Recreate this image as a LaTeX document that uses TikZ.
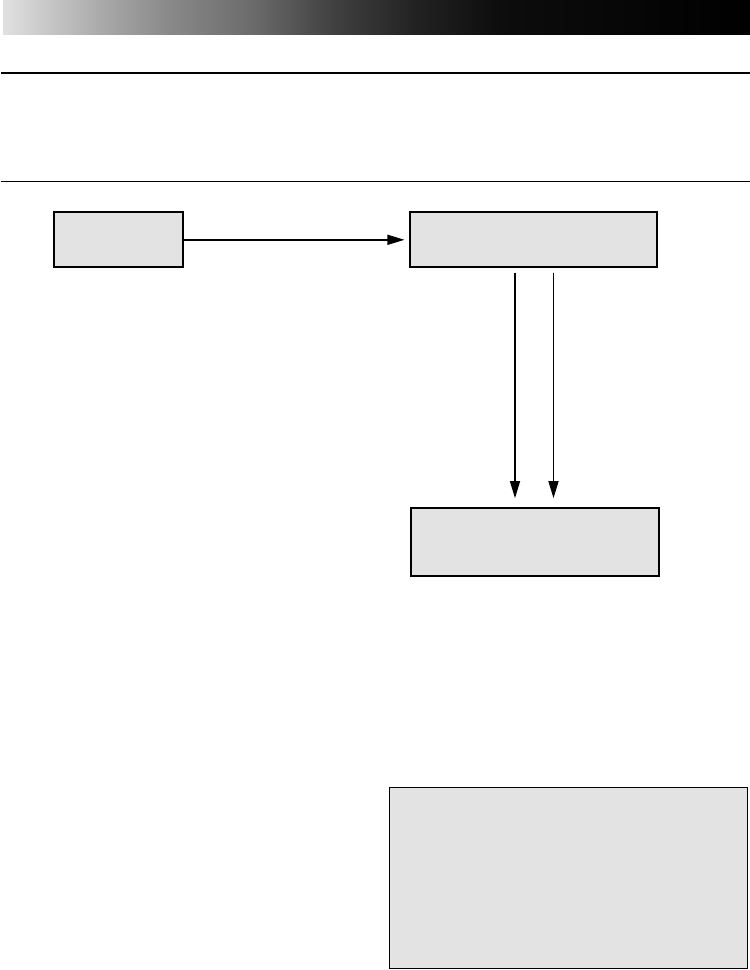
\documentclass[tikz,border=0pt]{standalone}
\usetikzlibrary{arrows.meta,calc}
\pgfdeclarehorizontalshading{headbar}{100bp}{%
  color(0bp)=(black!12); color(25bp)=(black!12);
  color(31.7bp)=(black!34); color(36bp)=(black!46);
  color(41.7bp)=(black!58); color(47.2bp)=(black!75);
  color(52.8bp)=(black!87); color(58.3bp)=(black!95);
  color(75bp)=(black); color(100bp)=(black)}
\definecolor{boxgray}{gray}{0.89}
\begin{document}
\begin{tikzpicture}[x=1pt,y=-1pt,
				box/.style={draw,fill=boxgray,line width=1.7pt,inner sep=0pt},
				flow/.style={line width=1.5pt,-{Triangle[length=17pt,width=10pt]}},
				rule/.style={line width=#1}]
				\useasboundingbox (0,0) rectangle (750,970);
				\shade[shading=headbar] (3,0) rectangle (750,34.7);
				\draw[rule=2pt] (1,72.7) -- (750,72.7);
				\draw[rule=1pt] (1,181) -- (750,181);
				\node[box,minimum width=129pt,minimum height=55pt] (src) at (118.7,239.8) {};
				\node[box,minimum width=247pt,minimum height=55pt] (mid) at (533.3,239.8) {};
				\node[box,minimum width=248pt,minimum height=68pt] (dst) at (535,542) {};
				\node[box,line width=1.2pt,minimum width=358pt,minimum height=181pt] (note) at (568.5,878) {};
				\coordinate (d1) at (515,0);
				\coordinate (d2) at (553.5,0);
				\draw[flow,shorten >=4.5pt] (src.east) -- (mid.west);
				\draw[flow,shorten <=4.5pt,shorten >=9pt] (mid.south -| d1) -- (dst.north -| d1);
				\draw[flow,shorten <=4.5pt,shorten >=9pt] (mid.south -| d2) -- (dst.north -| d2);
			\end{tikzpicture}
\end{document}
